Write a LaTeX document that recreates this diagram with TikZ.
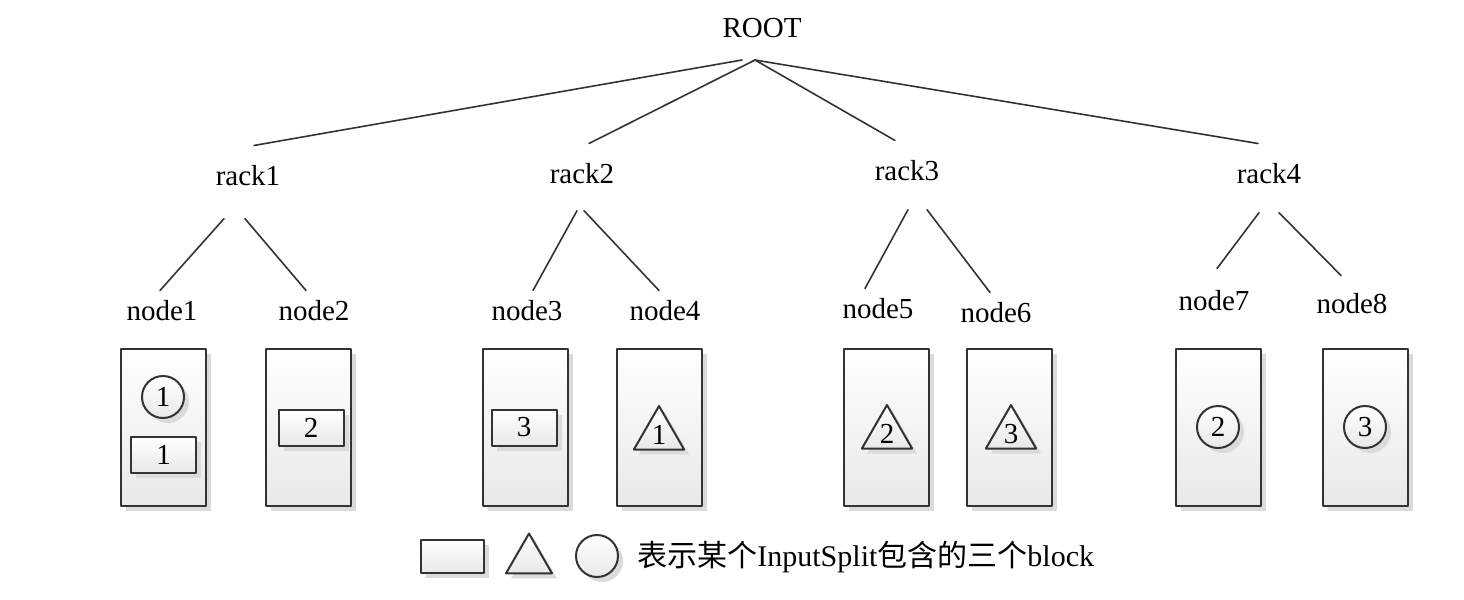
\documentclass[tikz,border=0pt]{standalone}
\usepackage{fontspec}
\setmainfont{Liberation Serif}
\newfontfamily\cjk{Noto Sans CJK SC}
\usetikzlibrary{shapes.geometric,shadows}

\begin{document}
\begin{tikzpicture}[x=0.5pt,y=-0.5pt,line cap=round,line join=round,
    font=\fontsize{14.5}{17}\selectfont,
    link/.style={draw=black!80,line width=0.8pt},
    racklbl/.style={anchor=base,inner xsep=2pt,inner ysep=9.5pt},
    hostlbl/.style={anchor=base,inner xsep=2pt,inner ysep=4.5pt},
    server/.style={draw=black!80,line width=1pt,minimum width=42.5pt,minimum height=78.5pt,
        top color=white,bottom color=black!9,
        drop shadow={shadow xshift=2.5pt,shadow yshift=-2.5pt,fill=black!14,opacity=1}},
    blockrect/.style={server,minimum width=32.5pt,minimum height=18pt,inner sep=0pt},
    blockcirc/.style={server,circle,minimum size=21pt,inner sep=0pt},
    blocktri/.style={server,regular polygon,regular polygon sides=3,minimum size=29pt,inner sep=0pt}]

    \useasboundingbox (0,0) rectangle (1464,600);

    % root and racks
    \node (root) at (762,28) {ROOT};
    \coordinate (hub) at (755,60);
    \node[racklbl] (rack1) at (248,185) {rack1};
    \node[racklbl] (rack2) at (582,183) {rack2};
    \node[racklbl] (rack3) at (907,180) {rack3};
    \node[racklbl] (rack4) at (1269,183) {rack4};

    % hosts
    \node[hostlbl] (host1) at (162,320) {node1};
    \node[hostlbl] (host2) at (314,320) {node2};
    \node[hostlbl] (host3) at (527,320) {node3};
    \node[hostlbl] (host4) at (665,320) {node4};
    \node[hostlbl] (host5) at (878,318) {node5};
    \node[hostlbl] (host6) at (996,322) {node6};
    \node[hostlbl] (host7) at (1214,310) {node7};
    \node[hostlbl] (host8) at (1352,313) {node8};

    % links root -> racks
    \draw[link] ([shift={(-13,0)}]hub) -- ([shift={(6,0)}]rack1.north);
    \draw[link] (hub) -- ([shift={(7,0)}]rack2.north);
    \draw[link] (hub) -- ([shift={(-12,0)}]rack3.north);
    \draw[link] (hub) -- ([shift={(-11,0)}]rack4.north);

    % links racks -> hosts
    \draw[link] ([shift={(-24,14)}]rack1.south) -- ([shift={(-2,0)}]host1.north);
    \draw[link] ([shift={(-3,14)}]rack1.south) -- ([shift={(-8,0)}]host2.north);
    \draw[link] ([shift={(-5,8)}]rack2.south) -- ([shift={(6,0)}]host3.north);
    \draw[link] ([shift={(2,8)}]rack2.south) -- ([shift={(-6,0)}]host4.north);
    \draw[link] ([shift={(1,10)}]rack3.south) -- ([shift={(-13,0)}]host5.north);
    \draw[link] ([shift={(20,10)}]rack3.south) -- ([shift={(-6,0)}]host6.north);
    \draw[link] ([shift={(-10,10)}]rack4.south) -- ([shift={(3,-12)}]host7.north);
    \draw[link] ([shift={(10,10)}]rack4.south) -- ([shift={(-11,-8)}]host8.north);

    % servers
    \node[server] (box1) at (163,427.5) {};
    \node[server] (box2) at (308,427.5) {};
    \node[server] (box3) at (525.5,427.5) {};
    \node[server] (box4) at (659.5,427.5) {};
    \node[server] (box5) at (886.5,427.5) {};
    \node[server] (box6) at (1009.5,427.5) {};
    \node[server] (box7) at (1218,427.5) {};
    \node[server] (box8) at (1365,427.5) {};

    % blocks
    \node[blockcirc] (c1) at (163,397) {1};
    \node[blockrect] (r1) at (163.5,455) {1};
    \node[blockrect] (r2) at (311,428) {2};
    \node[blockrect] (r3) at (524,427.5) {3};
    \node[blocktri] (t1) at (659,435) {1};
    \node[blocktri] (t2) at (887,434) {2};
    \node[blocktri] (t3) at (1011,434) {3};
    \node[blockcirc] (c2) at (1218,427) {2};
    \node[blockcirc] (c3) at (1365,427) {3};

    % legend
    \node[blockrect,minimum width=31.5pt,minimum height=16.5pt] (keyrect) at (452.5,556.5) {};
    \node[blocktri,minimum size=26.5pt] (keytri) at (529,560) {};
    \node[blockcirc] (keycirc) at (597,556) {};
    \node[anchor=base west,inner sep=0pt,font=\fontsize{15}{18}\selectfont] (keytext) at (637,566)
        {{\cjk 表示某个}InputSplit{\cjk 包含的三个}block};

\end{tikzpicture}
\end{document}
